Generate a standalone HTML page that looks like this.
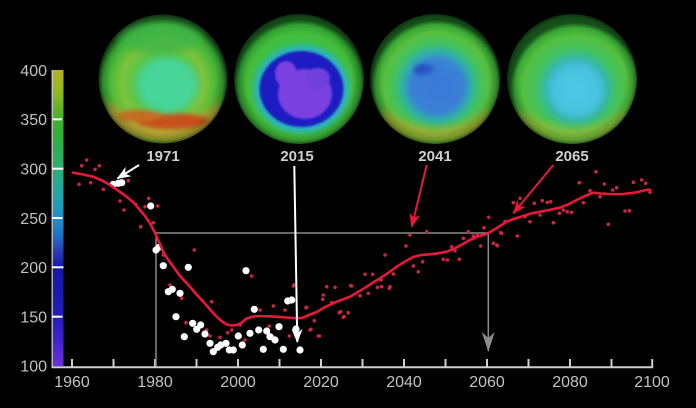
<!DOCTYPE html>
<html><head><meta charset="utf-8"><style>
html,body{margin:0;padding:0;background:#000;}
svg{display:block;}
text{font-family:"Liberation Sans",Arial,sans-serif;}
</style></head><body>
<svg width="696" height="408" viewBox="0 0 696 408" xmlns="http://www.w3.org/2000/svg">
<defs>
  <linearGradient id="cbar" x1="0" y1="0" x2="0" y2="1">
    <stop offset="0" stop-color="#b4b224"/>
    <stop offset="0.08" stop-color="#8eb822"/>
    <stop offset="0.17" stop-color="#3eb02e"/>
    <stop offset="0.25" stop-color="#2eae44"/>
    <stop offset="0.33" stop-color="#2eae70"/>
    <stop offset="0.42" stop-color="#22a6a8"/>
    <stop offset="0.5" stop-color="#2090c6"/>
    <stop offset="0.57" stop-color="#2268c0"/>
    <stop offset="0.62" stop-color="#2a36b4"/>
    <stop offset="0.67" stop-color="#1616a6"/>
    <stop offset="0.8" stop-color="#1c1cb2"/>
    <stop offset="0.9" stop-color="#3a22c6"/>
    <stop offset="1" stop-color="#6c30dc"/>
  </linearGradient>
  <radialGradient id="edge" cx="0.5" cy="0.5" r="0.5">
    <stop offset="0.82" stop-color="#000" stop-opacity="0"/>
    <stop offset="0.95" stop-color="#000" stop-opacity="0.2"/>
    <stop offset="1" stop-color="#000" stop-opacity="0.5"/>
  </radialGradient>
  <radialGradient id="g1" cx="163" cy="84" r="65" gradientUnits="userSpaceOnUse">
    <stop offset="0" stop-color="#48d490"/>
    <stop offset="0.34" stop-color="#44cc70"/>
    <stop offset="0.5" stop-color="#62c444"/>
    <stop offset="0.64" stop-color="#80c23c"/>
    <stop offset="0.78" stop-color="#52bc38"/>
    <stop offset="0.92" stop-color="#38a634"/>
    <stop offset="1" stop-color="#1c6020"/>
  </radialGradient>
  <radialGradient id="g2" cx="300" cy="86" r="66" gradientUnits="userSpaceOnUse">
    <stop offset="0" stop-color="#30c080"/>
    <stop offset="0.6" stop-color="#38c250"/>
    <stop offset="0.8" stop-color="#44bc3a"/>
    <stop offset="0.93" stop-color="#30a032"/>
    <stop offset="1" stop-color="#185a1c"/>
  </radialGradient>
  <radialGradient id="g3" cx="437" cy="86" r="66" gradientUnits="userSpaceOnUse">
    <stop offset="0" stop-color="#3a74d6"/>
    <stop offset="0.4" stop-color="#3a86d2"/>
    <stop offset="0.52" stop-color="#30b0a8"/>
    <stop offset="0.64" stop-color="#40c262"/>
    <stop offset="0.8" stop-color="#58c040"/>
    <stop offset="0.93" stop-color="#38a634"/>
    <stop offset="1" stop-color="#185a1c"/>
  </radialGradient>
  <radialGradient id="g4" cx="576" cy="89" r="66" gradientUnits="userSpaceOnUse">
    <stop offset="0" stop-color="#4cc4e2"/>
    <stop offset="0.36" stop-color="#42bcd8"/>
    <stop offset="0.48" stop-color="#38b8a2"/>
    <stop offset="0.6" stop-color="#40c262"/>
    <stop offset="0.8" stop-color="#54c040"/>
    <stop offset="0.93" stop-color="#38a634"/>
    <stop offset="1" stop-color="#185a1c"/>
  </radialGradient>
  <filter id="blur4" x="-50%" y="-50%" width="200%" height="200%"><feGaussianBlur stdDeviation="4"/></filter>
  <filter id="blur2" x="-50%" y="-50%" width="200%" height="200%"><feGaussianBlur stdDeviation="2"/></filter>
  <filter id="blur1" x="-50%" y="-50%" width="200%" height="200%"><feGaussianBlur stdDeviation="1"/></filter>
  <clipPath id="c1"><circle cx="163" cy="79" r="64.5"/></clipPath>
  <clipPath id="c2"><circle cx="299" cy="79" r="65"/></clipPath>
  <clipPath id="c3"><circle cx="435" cy="79" r="65"/></clipPath>
  <clipPath id="c4"><circle cx="572" cy="79" r="65"/></clipPath>
  <marker id="aw" markerUnits="userSpaceOnUse" markerWidth="20" markerHeight="20" refX="0" refY="0" orient="auto" overflow="visible">
    <path d="M1,0 L-13,-5.5 L-9,0 L-13,5.5 Z" fill="#ffffff"/>
  </marker>
  <marker id="ar" markerUnits="userSpaceOnUse" markerWidth="20" markerHeight="20" refX="0" refY="0" orient="auto" overflow="visible">
    <path d="M1,0 L-13,-5.5 L-9,0 L-13,5.5 Z" fill="#e8183a"/>
  </marker>
  <marker id="ag" markerUnits="userSpaceOnUse" markerWidth="20" markerHeight="20" refX="0" refY="0" orient="auto" overflow="visible">
    <path d="M1,0 L-19,-6.5 L-13,0 L-19,6.5 Z" fill="#8a8a8a"/>
  </marker>
</defs>

<rect width="696" height="408" fill="#000"/>

<!-- Globe 1 (1971) -->
<g clip-path="url(#c1)">
  <circle cx="163" cy="79" r="64.5" fill="url(#g1)"/>
  <path d="M108,100 Q163,150 220,100 L222,125 Q163,160 106,125 Z" fill="#c8a030" filter="url(#blur4)" opacity="0.85"/>
  <ellipse cx="172" cy="121" rx="36" ry="8" fill="#c8501e" filter="url(#blur2)"/>
  <ellipse cx="140" cy="116" rx="22" ry="6" fill="#c86a24" filter="url(#blur2)"/>
  <ellipse cx="168" cy="85" rx="30" ry="27" fill="#48d49a" filter="url(#blur4)"/>
  <ellipse cx="160" cy="38" rx="42" ry="16" fill="#3cb448" filter="url(#blur4)" opacity="0.8"/>
  <circle cx="163" cy="79" r="64.5" fill="url(#edge)"/>
</g>

<!-- Globe 2 (2015) -->
<g clip-path="url(#c2)">
  <circle cx="299" cy="79" r="65" fill="url(#g2)"/>
  <ellipse cx="301.5" cy="89" rx="48" ry="44" fill="#2cb4b8" filter="url(#blur2)"/>
  <ellipse cx="301.5" cy="89" rx="42" ry="38" fill="#1a1ac2" filter="url(#blur1)"/>
  <ellipse cx="305" cy="94" rx="27" ry="25" fill="#7a40e0" filter="url(#blur1)"/>
  <ellipse cx="286" cy="74" rx="11" ry="13" fill="#7a40e0" filter="url(#blur1)"/>
  <ellipse cx="318" cy="78" rx="12" ry="10" fill="#7040dc" filter="url(#blur1)"/>
  <circle cx="299" cy="79" r="65" fill="url(#edge)"/>
</g>

<!-- Globe 3 (2041) -->
<g clip-path="url(#c3)">
  <circle cx="435" cy="79" r="65" fill="url(#g3)"/>
  <path d="M382,108 Q437,148 490,108 L492,125 Q437,158 380,125 Z" fill="#b8a82a" filter="url(#blur4)" opacity="0.7"/>
  <ellipse cx="424" cy="70" rx="10" ry="6" fill="#2050c0" filter="url(#blur2)"/>
  <ellipse cx="438" cy="90" rx="24" ry="22" fill="#3e7cd8" filter="url(#blur4)" opacity="0.6"/>
  <circle cx="435" cy="79" r="65" fill="url(#edge)"/>
</g>

<!-- Globe 4 (2065) -->
<g clip-path="url(#c4)">
  <circle cx="572" cy="79" r="65" fill="url(#g4)"/>
  <path d="M519,108 Q574,148 627,108 L629,125 Q574,158 517,125 Z" fill="#a8b830" filter="url(#blur4)" opacity="0.6"/>
  <ellipse cx="577" cy="91" rx="24" ry="24" fill="#50c8e4" filter="url(#blur4)" opacity="0.6"/>
  <circle cx="572" cy="79" r="65" fill="url(#edge)"/>
</g>

<!-- Globe labels -->
<g font-size="15" font-weight="bold" fill="#cfcfcf" text-anchor="middle">
  <text x="163" y="161">1971</text>
  <text x="297" y="161">2015</text>
  <text x="435" y="161">2041</text>
  <text x="572" y="161">2065</text>
</g>

<!-- Colorbar -->
<rect x="52" y="70" width="11.5" height="296" fill="url(#cbar)"/>
<line x1="52.2" y1="70" x2="52.2" y2="367" stroke="#c8c8c8" stroke-width="1.3"/>
<g stroke="#ffffff" stroke-width="2">
  <line x1="53" y1="119.3" x2="62" y2="119.3"/>
  <line x1="52" y1="168.7" x2="63.5" y2="168.7"/>
  <line x1="52" y1="218" x2="62.5" y2="218"/>
  <line x1="52" y1="267.3" x2="63.5" y2="267.3"/>
  <line x1="52" y1="316.7" x2="62.5" y2="316.7"/>
</g>

<!-- Y labels -->
<g font-size="16" fill="#c2c2c2" text-anchor="end">
  <text x="47" y="76">400</text>
  <text x="47" y="125">350</text>
  <text x="47" y="174.5">300</text>
  <text x="47" y="224">250</text>
  <text x="47" y="273">200</text>
  <text x="47" y="322.5">150</text>
  <text x="47" y="371.5">100</text>
</g>

<!-- X axis -->
<line x1="51.5" y1="367.2" x2="653.2" y2="367.2" stroke="#cfcfcf" stroke-width="2"/>
<g stroke="#cfcfcf" stroke-width="2">
  <line x1="72" y1="359" x2="72" y2="367"/>
  <line x1="113.5" y1="359" x2="113.5" y2="367"/>
  <line x1="155" y1="359" x2="155" y2="367"/>
  <line x1="196.5" y1="359" x2="196.5" y2="367"/>
  <line x1="238" y1="359" x2="238" y2="367"/>
  <line x1="279.5" y1="359" x2="279.5" y2="367"/>
  <line x1="321" y1="359" x2="321" y2="367"/>
  <line x1="362.5" y1="359" x2="362.5" y2="367"/>
  <line x1="404" y1="359" x2="404" y2="367"/>
  <line x1="445.5" y1="359" x2="445.5" y2="367"/>
  <line x1="487" y1="359" x2="487" y2="367"/>
  <line x1="528.5" y1="359" x2="528.5" y2="367"/>
  <line x1="570" y1="359" x2="570" y2="367"/>
  <line x1="611.5" y1="359" x2="611.5" y2="367"/>
  <line x1="652.2" y1="359" x2="652.2" y2="367"/>
</g>
<g font-size="16" fill="#c2c2c2" text-anchor="middle">
  <text x="72" y="387">1960</text>
  <text x="155" y="387">1980</text>
  <text x="238" y="387">2000</text>
  <text x="321" y="387">2020</text>
  <text x="404" y="387">2040</text>
  <text x="487" y="387">2060</text>
  <text x="570" y="387">2080</text>
  <text x="652" y="387">2100</text>
</g>

<!-- Gray reference lines -->
<g stroke="#8a8a8a" stroke-width="1.5" fill="none">
  <line x1="156" y1="233" x2="156" y2="366"/>
  <line x1="156" y1="233" x2="488.3" y2="233"/>
  <line x1="488.3" y1="233" x2="488.3" y2="351" marker-end="url(#ag)"/>
</g>

<!-- Red scatter dots -->
<g fill="#c8283f">
<circle cx="86.7" cy="160" r="1.8"/><circle cx="81.7" cy="165.7" r="1.8"/><circle cx="95" cy="169.3" r="1.8"/><circle cx="99.3" cy="165.7" r="1.8"/><circle cx="79" cy="184.3" r="1.8"/><circle cx="90.7" cy="182.7" r="1.8"/><circle cx="103.3" cy="189.3" r="1.8"/><circle cx="128.3" cy="180.7" r="1.8"/><circle cx="120" cy="201" r="1.8"/><circle cx="124" cy="210" r="1.8"/><circle cx="135.7" cy="204.3" r="1.8"/><circle cx="148.7" cy="198.3" r="1.8"/><circle cx="157.7" cy="206" r="1.8"/><circle cx="140.7" cy="226.7" r="1.8"/><circle cx="153.3" cy="222.7" r="1.8"/><circle cx="145" cy="206.7" r="1.8"/><circle cx="194.3" cy="250" r="1.8"/><circle cx="163.3" cy="255" r="1.8"/>
<circle cx="251.7" cy="276" r="1.8"/><circle cx="211.7" cy="301.7" r="1.8"/><circle cx="260" cy="310" r="1.8"/><circle cx="273.3" cy="306" r="1.8"/><circle cx="285" cy="310" r="1.8"/><circle cx="294" cy="285" r="1.8"/><circle cx="306.7" cy="307.3" r="1.8"/><circle cx="311" cy="329.3" r="1.8"/><circle cx="319.3" cy="336" r="1.8"/><circle cx="314.3" cy="320.7" r="1.8"/><circle cx="322.7" cy="299.3" r="1.8"/><circle cx="326.7" cy="286.7" r="1.8"/><circle cx="331.7" cy="302.7" r="1.8"/><circle cx="340.7" cy="311.7" r="1.8"/><circle cx="344" cy="316.7" r="1.8"/><circle cx="227.7" cy="332.7" r="1.8"/><circle cx="231.7" cy="330" r="1.8"/><circle cx="240" cy="325" r="1.8"/><circle cx="220" cy="337.3" r="1.8"/><circle cx="210" cy="336" r="1.8"/><circle cx="245" cy="340" r="1.8"/><circle cx="269.3" cy="326" r="1.8"/><circle cx="274" cy="337.3" r="1.8"/><circle cx="181.7" cy="298.3" r="1.8"/><circle cx="186" cy="322.7" r="1.8"/><circle cx="170" cy="285" r="1.8"/><circle cx="206.7" cy="330" r="1.8"/><circle cx="289.3" cy="336" r="1.8"/><circle cx="214.3" cy="351.7" r="1.8"/>
<circle cx="293.3" cy="286" r="1.8"/><circle cx="335" cy="287.3" r="1.8"/><circle cx="351.7" cy="286" r="1.8"/><circle cx="365" cy="274.3" r="1.8"/><circle cx="323.3" cy="295" r="1.8"/>
<circle cx="306" cy="307.7" r="1.8"/><circle cx="310" cy="330" r="1.8"/><circle cx="318.3" cy="336" r="1.8"/><circle cx="339.3" cy="312.7" r="1.8"/><circle cx="343.3" cy="317.3" r="1.8"/><circle cx="348.3" cy="312.7" r="1.8"/><circle cx="360" cy="295.7" r="1.8"/><circle cx="368.3" cy="293.3" r="1.8"/><circle cx="372.7" cy="274.3" r="1.8"/><circle cx="377.3" cy="287.3" r="1.8"/><circle cx="381" cy="280" r="1.8"/><circle cx="389.3" cy="288.3" r="1.8"/><circle cx="393.3" cy="274" r="1.8"/><circle cx="418.3" cy="271.7" r="1.8"/>
<circle cx="410" cy="235" r="1.8"/><circle cx="426.7" cy="231.7" r="1.8"/><circle cx="406" cy="246" r="1.8"/><circle cx="385" cy="255" r="1.8"/><circle cx="350.7" cy="285.7" r="1.8"/><circle cx="413.3" cy="266" r="1.8"/><circle cx="422.7" cy="261.7" r="1.8"/><circle cx="443.3" cy="259.3" r="1.8"/><circle cx="447.3" cy="260" r="1.8"/><circle cx="451.7" cy="246.7" r="1.8"/><circle cx="455" cy="250.7" r="1.8"/><circle cx="459.3" cy="259.3" r="1.8"/><circle cx="463.3" cy="238.3" r="1.8"/><circle cx="468.3" cy="231.7" r="1.8"/><circle cx="473.3" cy="236" r="1.8"/><circle cx="477.3" cy="235" r="1.8"/><circle cx="480.7" cy="246" r="1.8"/><circle cx="484" cy="227.7" r="1.8"/><circle cx="488.7" cy="217.3" r="1.8"/><circle cx="493.3" cy="243.3" r="1.8"/><circle cx="496.7" cy="245" r="1.8"/><circle cx="500.7" cy="232.7" r="1.8"/><circle cx="381.7" cy="286.7" r="1.8"/><circle cx="390" cy="286.7" r="1.8"/>
<circle cx="596" cy="171.7" r="1.8"/><circle cx="579.3" cy="182.7" r="1.8"/><circle cx="604.3" cy="184" r="1.8"/><circle cx="612.7" cy="190" r="1.8"/><circle cx="616.7" cy="187.7" r="1.8"/><circle cx="633.3" cy="182.3" r="1.8"/><circle cx="641.7" cy="180" r="1.8"/><circle cx="645.7" cy="183.3" r="1.8"/><circle cx="650" cy="192.3" r="1.8"/><circle cx="590" cy="190.7" r="1.8"/><circle cx="600" cy="196.7" r="1.8"/><circle cx="583.3" cy="202.7" r="1.8"/><circle cx="542.3" cy="200.7" r="1.8"/><circle cx="547.3" cy="202.3" r="1.8"/><circle cx="550.7" cy="201.7" r="1.8"/><circle cx="534.3" cy="203.3" r="1.8"/><circle cx="563.3" cy="210" r="1.8"/><circle cx="567.3" cy="211.7" r="1.8"/><circle cx="571.7" cy="212.3" r="1.8"/><circle cx="559.3" cy="213.3" r="1.8"/><circle cx="540" cy="215" r="1.8"/><circle cx="525" cy="216.7" r="1.8"/><circle cx="530" cy="221.7" r="1.8"/><circle cx="553.3" cy="222.7" r="1.8"/><circle cx="520" cy="198.3" r="1.8"/><circle cx="513.3" cy="202.7" r="1.8"/><circle cx="625" cy="211" r="1.8"/><circle cx="629.3" cy="210.7" r="1.8"/><circle cx="608.3" cy="224.3" r="1.8"/><circle cx="505" cy="221.7" r="1.8"/><circle cx="501.7" cy="233.3" r="1.8"/><circle cx="517.3" cy="236" r="1.8"/><circle cx="497.3" cy="245.7" r="1.8"/>
</g>

<!-- White observed dots -->
<g fill="#ffffff">
<circle cx="113.3" cy="184.3" r="3.6"/><circle cx="118.3" cy="183.3" r="3.6"/><circle cx="121.7" cy="182.7" r="3.6"/>
<circle cx="150.7" cy="206" r="3.6"/><circle cx="156" cy="250" r="3.6"/><circle cx="158.7" cy="247.3" r="3.4"/>
<circle cx="163.3" cy="265.7" r="3.6"/><circle cx="188.3" cy="267.3" r="3.6"/><circle cx="246" cy="270.7" r="3.6"/>
<circle cx="168.3" cy="291.7" r="3.6"/><circle cx="172.3" cy="289.3" r="3.6"/><circle cx="180" cy="293.3" r="3.6"/>
<circle cx="176" cy="316.7" r="3.6"/><circle cx="192.7" cy="323.3" r="3.6"/><circle cx="200.7" cy="325" r="3.6"/><circle cx="196.7" cy="329.3" r="3.6"/>
<circle cx="184.3" cy="336.7" r="3.6"/><circle cx="205" cy="334" r="3.6"/><circle cx="210" cy="343.3" r="3.6"/><circle cx="213.3" cy="351.7" r="3.6"/>
<circle cx="217.7" cy="347.3" r="3.6"/><circle cx="220.7" cy="345" r="3.6"/><circle cx="226" cy="343.3" r="3.6"/><circle cx="229.3" cy="350" r="3.6"/><circle cx="233.3" cy="350" r="3.6"/>
<circle cx="238.3" cy="336" r="3.6"/><circle cx="242.3" cy="345" r="3.6"/><circle cx="250" cy="333.3" r="3.6"/><circle cx="254.3" cy="309.3" r="3.6"/>
<circle cx="258.7" cy="330" r="3.6"/><circle cx="266.7" cy="331" r="3.6"/><circle cx="270" cy="336.7" r="3.6"/><circle cx="275" cy="340" r="3.6"/>
<circle cx="263.3" cy="349.3" r="3.6"/><circle cx="279" cy="326.7" r="3.6"/><circle cx="283.3" cy="349.3" r="3.6"/>
<circle cx="287.7" cy="301" r="3.6"/><circle cx="291.7" cy="300" r="3.6"/><circle cx="296" cy="329" r="3.6"/><circle cx="300" cy="350" r="3.6"/>
</g>

<!-- Red model curve -->
<polyline fill="none" stroke="#e8183a" stroke-width="2.6" stroke-linejoin="round" stroke-linecap="round"
 points="73,172.7 83,174.5 93,176.7 102,180.5 110,185 118,190.5 126.7,196.7 134,203 140,210 145,216 150,223.3 155,233 159,242 163.3,252 168,259.5 173.3,266.7 180,276 190,286.7 196,294 203.3,301.7 210,309.5 216.7,316.7 222,321.5 226.7,324.5 231,325.5 236.7,325 241,323 246.7,318.5 253,316.5 260,316 268,316.3 276.7,316.7 286,317.5 296.7,318.3 302,318 309,315 316.7,312 325,307 333.3,303.3 341,300 350,296.7 358,292 366.7,286.7 373,282.5 380,278.3 388,273 396.7,266.7 405,261.5 413.3,257 421,255 430,254.3 438,253.3 446.7,251.7 452,249.5 456.7,247.3 463,244 470,240 478,236.5 486.7,234 496,228.5 506.7,221.7 515,218.5 523.3,216 531,213.5 540,211.7 550,209.8 560,207.7 568,204.5 576.7,200 585,196 593.3,192.7 601,193.5 610,194 617,194.2 623.3,194 630,193.2 636.7,192.3 642,191 648.3,189.5 650,190"/>

<!-- Annotation arrows -->
<line x1="139" y1="165" x2="117.5" y2="178.5" stroke="#ffffff" stroke-width="2" marker-end="url(#aw)"/>
<line x1="294.3" y1="166" x2="297.3" y2="342" stroke="#ffffff" stroke-width="2" marker-end="url(#aw)"/>
<line x1="426.7" y1="165" x2="411.7" y2="226.7" stroke="#e8183a" stroke-width="2" marker-end="url(#ar)"/>
<line x1="553.3" y1="165" x2="513.3" y2="213.3" stroke="#e8183a" stroke-width="2" marker-end="url(#ar)"/>
</svg>
</body></html>
